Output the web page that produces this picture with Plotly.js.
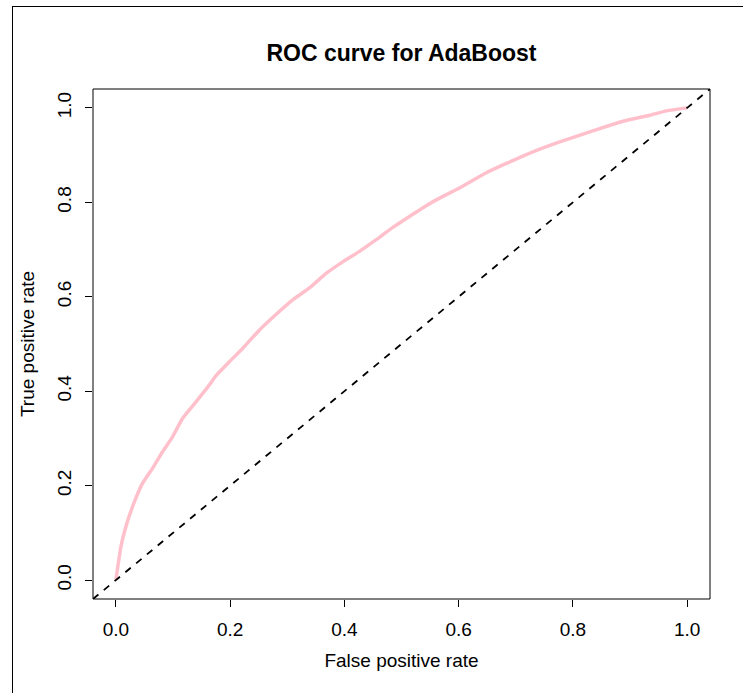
<!DOCTYPE html>
<html>
<head>
<meta charset="utf-8">
<script src="https://cdn.plot.ly/plotly-3.0.1.min.js"></script>
<style>
html,body{margin:0;padding:0;background:#fff;overflow:hidden;}
#chart{width:743px;height:693px;position:relative;}
#frame{position:absolute;left:12px;top:6px;width:900px;height:900px;border-left:1px solid #000;border-top:1px solid #000;pointer-events:none;}
</style>
</head>
<body>
<div id="chart"></div>
<div id="frame"></div>
<script>
const fpr = [0, 0.0088, 0.0175, 0.0291, 0.0466, 0.0641, 0.0817, 0.0992, 0.1167, 0.1402, 0.1635, 0.1753, 0.1986, 0.2219, 0.2511, 0.2745, 0.3095, 0.3388, 0.3680, 0.3971, 0.4264, 0.4557, 0.4848, 0.5140, 0.5433, 0.5724, 0.6016, 0.6484, 0.6835, 0.7301, 0.7769, 0.8295, 0.8878, 0.9346, 0.9639, 1.0];
const tpr = [0, 0.0705, 0.1129, 0.1552, 0.2047, 0.2365, 0.2717, 0.3034, 0.3424, 0.3775, 0.4129, 0.4330, 0.4622, 0.4906, 0.5293, 0.5561, 0.5934, 0.6186, 0.6494, 0.6739, 0.6961, 0.7209, 0.7470, 0.7702, 0.7930, 0.8126, 0.8303, 0.8625, 0.8823, 0.9069, 0.9280, 0.9492, 0.9718, 0.9845, 0.9937, 1.0];
const diagX = [-0.04, 1.04];
const diagY = [-0.04, 1.04];
const tickVals = [0, 0.2, 0.4, 0.6, 0.8, 1.0];
const tickText = ["0.0", "0.2", "0.4", "0.6", "0.8", "1.0"];

const font = {family: "Liberation Sans, Arial, sans-serif", size: 19, color: "#000"};

const traces = [
  {x: fpr, y: tpr, mode: "lines", line: {color: "#FFC0CB", width: 3.5, shape: "spline", smoothing: 0.5}, hoverinfo: "skip"},
  {x: diagX, y: diagY, mode: "lines", line: {color: "#000", width: 1.8, dash: "7px,7px"}, hoverinfo: "skip"}
];

const layout = {
  width: 743, height: 693,
  margin: {l: 93, r: 33, t: 89, b: 94, pad: 0},
  paper_bgcolor: "#fff", plot_bgcolor: "#fff",
  showlegend: false,
  font: font,
  title: {text: "<b>ROC curve for AdaBoost</b>", font: {family: "Liberation Sans, Arial, sans-serif", size: 23, color: "#000"}, x: 0.5, xref: "paper", xanchor: "center", y: 1 - 53/693, yref: "container", yanchor: "middle"},
  xaxis: {
    range: [-0.04, 1.04], tickvals: tickVals, ticktext: tickText,
    ticks: "outside", ticklen: 7, tickwidth: 1, tickcolor: "#000",
    showgrid: false, zeroline: false, showline: false,
    tickfont: font, ticklabelstandoff: 6,
    title: {text: "False positive rate", font: font, standoff: 14}
  },
  yaxis: {
    range: [-0.04, 1.04], tickvals: tickVals, ticktext: tickText,
    ticks: "outside", ticklen: 7, tickwidth: 1, tickcolor: "#000",
    showgrid: false, zeroline: false, showline: false,
    tickangle: -90, tickfont: font, ticklabelstandoff: 6,
    title: {text: "True positive rate", font: font, standoff: 14}
  },
  shapes: [
    {type: "rect", xref: "paper", yref: "paper", x0: 0, x1: 1, y0: 0, y1: 1, line: {color: "#000", width: 1}}
  ]
};

Plotly.newPlot("chart", traces, layout, {displayModeBar: false, staticPlot: true});
</script>
</body>
</html>
